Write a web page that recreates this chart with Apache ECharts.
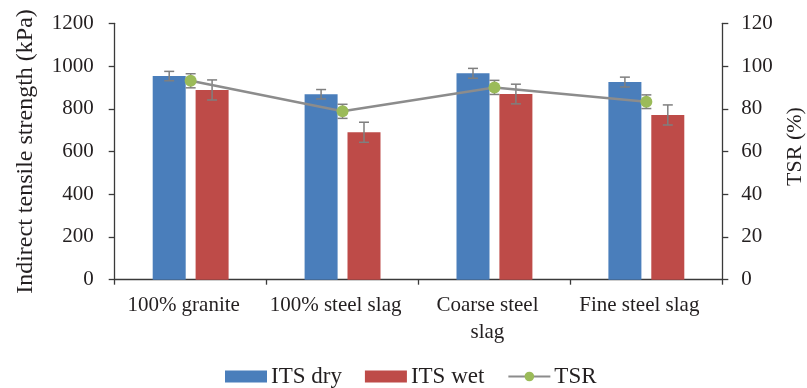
<!DOCTYPE html>
<html>
<head>
<meta charset="utf-8">
<script src="https://cdn.jsdelivr.net/npm/echarts@6/dist/echarts.min.js"></script>
<style>
  html, body { margin: 0; padding: 0; background: #fff; }
  #chart { width: 807px; height: 388px; }
</style>
</head>
<body>
<div id="chart"></div>
<script>
// Mix types along the category axis
var categories = ['100% granite', '100% steel slag', 'Coarse steel\nslag', 'Fine steel slag'];

// Indirect tensile strength (kPa), mean and standard deviation
var itsDry = [953, 868, 966, 925];
var itsDryErr = [22, 22, 23, 23];
var itsWet = [888, 690, 869, 771];
var itsWetErr = [47, 47, 46, 47];

// Tensile strength ratio (%), mean and standard deviation
var tsr = [93.1, 78.8, 90.0, 83.3];
var tsrErr = [3.3, 3.3, 3.3, 3.2];

// Axis tick ranges
var itsAxis = { min: 0, max: 1200, interval: 200 };
var tsrAxis = { min: 0, max: 120, interval: 20 };

var FONT = "'Liberation Serif', 'Times New Roman', serif";
var TEXT = '#231f20';
var AXIS = '#3a3a3a';
var ERR = '#7f7f7f';
var BAR_W = 33;
var BAR_GAP = 0.3;
var OFFSET = (BAR_W + BAR_W * BAR_GAP) / 2;

function errorBars(means, errs, shift) {
  return means.map(function (m, i) { return [i, m, errs[i], shift]; });
}

function renderErr(params, api) {
  var i = api.value(0), m = api.value(1), e = api.value(2), shift = api.value(3);
  var hi = api.coord([i, m + e]);
  var lo = api.coord([i, m - e]);
  var x = hi[0] + shift;
  var cap = 5;
  var style = { stroke: ERR, lineWidth: 1.5 };
  return {
    type: 'group',
    children: [
      { type: 'line', shape: { x1: x, y1: hi[1], x2: x, y2: lo[1] }, style: style },
      { type: 'line', shape: { x1: x - cap, y1: hi[1], x2: x + cap, y2: hi[1] }, style: style },
      { type: 'line', shape: { x1: x - cap, y1: lo[1], x2: x + cap, y2: lo[1] }, style: style }
    ]
  };
}

function plain(v) { return String(v); }

var chart = echarts.init(document.getElementById('chart'));
chart.setOption({
  animation: false,
  textStyle: { fontFamily: FONT, color: TEXT },
  grid: { left: 114.7, right: 84.7, top: 23.3, bottom: 108.3, containLabel: false, outerBoundsMode: 'none' },
  legend: {
    data: [
      { name: 'ITS dry', icon: 'rect' },
      { name: 'ITS wet', icon: 'rect' },
      { name: 'TSR' }
    ],
    left: 220,
    top: 360,
    itemWidth: 42,
    itemHeight: 12,
    itemGap: 23,
    textStyle: { fontFamily: FONT, fontSize: 23, color: TEXT, padding: [0, 0, 0, -1] }
  },
  xAxis: {
    type: 'category',
    data: categories,
    axisLine: { lineStyle: { color: AXIS, width: 1.3 } },
    axisTick: { show: true, length: 5, lineStyle: { color: AXIS, width: 1.3 } },
    axisLabel: {
      interval: 0, fontFamily: FONT, fontSize: 21, lineHeight: 27, color: TEXT, margin: 12,
      padding: [0, 14, 0, 0]
    }
  },
  yAxis: [
    {
      type: 'value',
      min: itsAxis.min, max: itsAxis.max, interval: itsAxis.interval,
      name: 'Indirect tensile strength (kPa)',
      nameLocation: 'middle',
      nameGap: 77,
      nameTextStyle: { fontFamily: FONT, fontSize: 24, color: TEXT },
      axisLine: { show: true, lineStyle: { color: AXIS, width: 1.3 } },
      axisTick: { show: true, length: 6, lineStyle: { color: AXIS, width: 1.3 } },
      axisLabel: { fontFamily: FONT, fontSize: 21, color: TEXT, margin: 21, formatter: plain },
      splitLine: { show: false }
    },
    {
      type: 'value',
      min: tsrAxis.min, max: tsrAxis.max, interval: tsrAxis.interval,
      name: 'TSR (%)',
      nameLocation: 'middle',
      nameGap: 62,
      nameTextStyle: { fontFamily: FONT, fontSize: 22, color: TEXT, padding: [0, 0, 0, 10] },
      axisLine: { show: true, lineStyle: { color: AXIS, width: 1.3 } },
      axisTick: { show: true, length: 6, lineStyle: { color: AXIS, width: 1.3 } },
      axisLabel: { fontFamily: FONT, fontSize: 21, color: TEXT, margin: 19, formatter: plain },
      splitLine: { show: false }
    }
  ],
  series: [
    {
      name: 'ITS dry',
      type: 'bar',
      data: itsDry,
      barWidth: BAR_W,
      barGap: '30%',
      itemStyle: { color: '#4a7ebb' },
      z: 2
    },
    {
      name: 'ITS wet',
      type: 'bar',
      data: itsWet,
      barWidth: BAR_W,
      barGap: '30%',
      itemStyle: { color: '#be4b48' },
      z: 2
    },
    {
      name: 'ITS dry err',
      type: 'custom',
      renderItem: renderErr,
      data: errorBars(itsDry, itsDryErr, -OFFSET),
      encode: { x: 0, y: 1 },
      z: 3,
      silent: true
    },
    {
      name: 'ITS wet err',
      type: 'custom',
      renderItem: renderErr,
      data: errorBars(itsWet, itsWetErr, OFFSET),
      encode: { x: 0, y: 1 },
      z: 3,
      silent: true
    },
    {
      name: 'TSR err',
      type: 'custom',
      yAxisIndex: 1,
      renderItem: renderErr,
      data: errorBars(tsr, tsrErr, 0),
      encode: { x: 0, y: 1 },
      z: 4,
      silent: true
    },
    {
      name: 'TSR',
      type: 'line',
      yAxisIndex: 1,
      data: tsr,
      symbol: 'circle',
      symbolSize: 12,
      lineStyle: { color: '#8c8c8c', width: 2.5 },
      itemStyle: { color: '#9bbb59', borderWidth: 0 },
      z: 5
    }
  ]
});
</script>
</body>
</html>
